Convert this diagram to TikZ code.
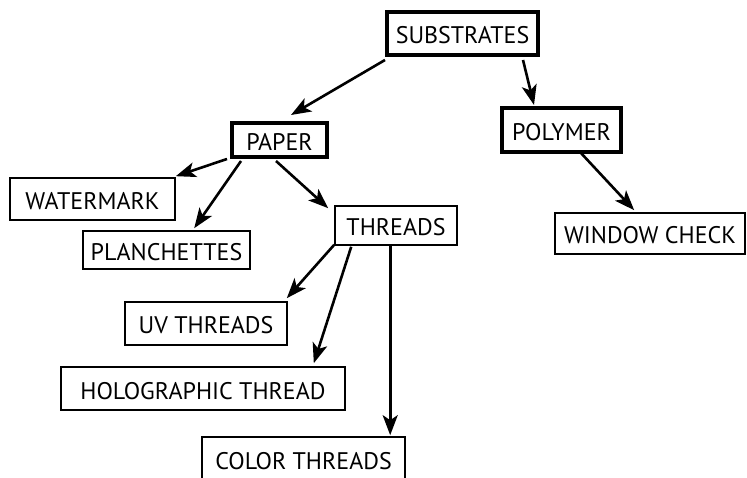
\documentclass[tikz,border=0pt]{standalone}
\usepackage{fontspec}
\setmainfont{PT Sans}
\usetikzlibrary{arrows.meta,calc}
\tikzset{
  box/.style={draw=black, line width=1.6pt, inner sep=0pt, fill=white,
    font=\fontsize{24}{28}\selectfont, text height=21pt, text depth=0pt, anchor=center},
  mainbox/.style={box, line width=4pt},
  arr/.style={line width=2.6pt, -{Stealth[length=20pt,width=15pt,inset=5pt]}}
}
\begin{document}
\begin{tikzpicture}[x=1pt,y=-1pt]
\useasboundingbox (0,0) rectangle (747,478);
\node[mainbox, minimum width=151pt, minimum height=43pt] (sub) at (462.5,33.5) {SUBSTRATES};
\node[mainbox, minimum width=95pt, minimum height=34pt] (paper) at (279.5,140) {PAPER};
\node[mainbox, minimum width=119pt, minimum height=44pt] (poly) at (561.5,130) {POLYMER};
\node[box, minimum width=165pt, minimum height=42pt] (water) at (92.5,199) {WATERMARK};
\node[box, minimum width=167pt, minimum height=38pt] (planch) at (166.5,250) {PLANCHETTES};
\node[box, minimum width=122pt, minimum height=39pt] (threads) at (396,225.5) {THREADS};
\node[box, minimum width=190pt, minimum height=41pt] (window) at (650,233.5) {WINDOW CHECK};
\node[box, minimum width=162pt, minimum height=43pt] (uv) at (206,323.5) {UV THREADS};
\node[box, minimum width=284pt, minimum height=43pt] (holo) at (203,388.5) {HOLOGRAPHIC THREAD};
\node[box, minimum width=203pt, minimum height=43pt] (color) at (303.5,458.5) {COLOR THREADS};

\draw[arr] ($(sub.south west)+(0,3)$) -- ($(paper.north west)+(61,-6)$);
\draw[arr] ($(sub.south east)+(-17,3)$) -- ($(poly.north west)+(34,-1)$);
\draw[arr] ($(paper.south west)+(-3,0)$) -- ($(water.north east)+(0,-1)$);
\draw[arr] ($(paper.south west)+(11,2)$) -- ($(planch.north west)+(112,-2)$);
\draw[arr] ($(paper.south west)+(46,2)$) -- ($(threads.north west)+(-6,3)$);
\draw[arr] ($(poly.south west)+(80,-2)$) -- ($(window.north west)+(80,-2)$);
\draw[arr] ($(threads.south west)+(0,-1)$) -- ($(uv.north east)+(-1,-3)$);
\draw[arr] ($(threads.south west)+(17,1)$) -- ($(holo.north east)+(-32,-3)$);
\draw[arr] ($(threads.south west)+(56,0)$) -- ($(color.north west)+(189,-1)$);
\end{tikzpicture}
\end{document}
